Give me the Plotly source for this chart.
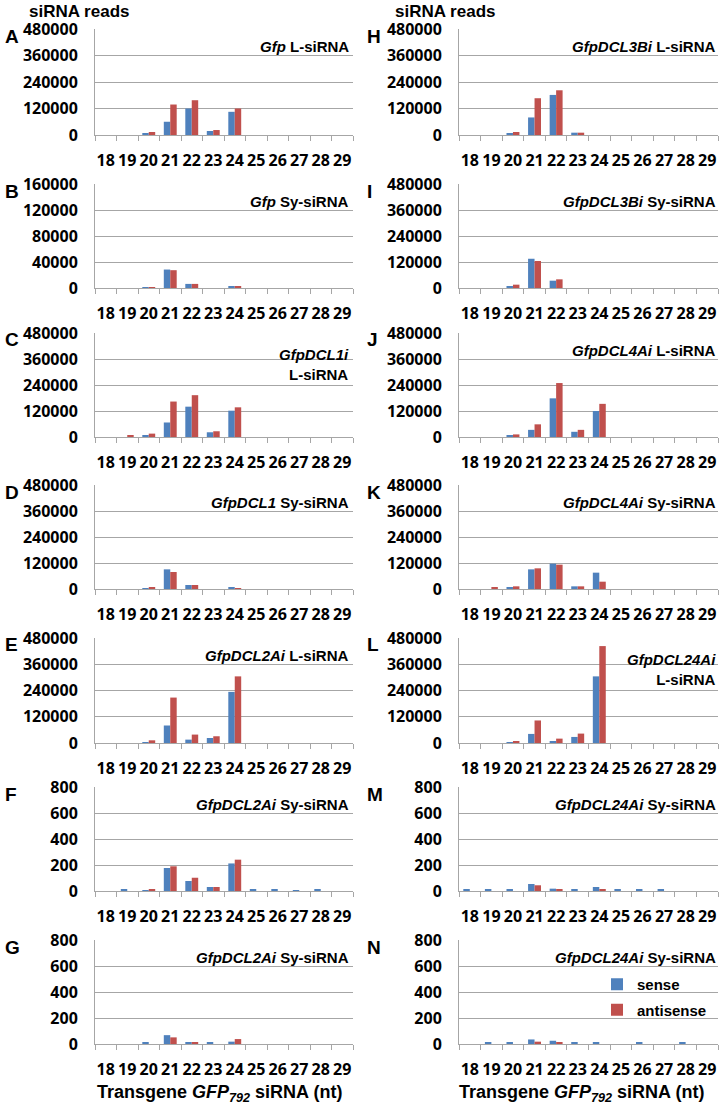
import plotly.graph_objects as go

sizes = [str(s) for s in range(18, 30)]

# sense / antisense reads per siRNA size (18..29 nt)
A_sense = [0, 0, 6000, 60000, 120000, 18000, 105000, 0, 0, 0, 0, 0]
A_anti = [0, 0, 13500, 138000, 157500, 22500, 120000, 0, 0, 0, 0, 0]
B_sense = [0, 0, 500, 28400, 6300, 0, 2600, 0, 0, 0, 0, 0]
B_anti = [0, 0, 1500, 27400, 6300, 0, 1600, 0, 0, 0, 0, 0]
C_sense = [0, 0, 4700, 67000, 140000, 21800, 121500, 0, 0, 0, 0, 0]
C_anti = [0, 4700, 15600, 163600, 193000, 26500, 137000, 0, 0, 0, 0, 0]
D_sense = [0, 0, 4600, 90700, 18500, 0, 7700, 0, 0, 0, 0, 0]
D_anti = [0, 0, 9200, 78400, 18500, 0, 4600, 0, 0, 0, 0, 0]
E_sense = [0, 0, 1000, 80000, 15400, 23000, 233800, 0, 0, 0, 0, 0]
E_anti = [0, 0, 12300, 207700, 38500, 30800, 304600, 0, 0, 0, 0, 0]
F_sense = [0, 8, 2, 177, 77, 31, 212, 13, 8, 5, 8, 0]
F_anti = [0, 0, 15, 190, 102, 31, 241, 0, 0, 0, 0, 0]
G_sense = [0, 0, 8, 68, 8, 8, 18, 0, 0, 0, 0, 0]
G_anti = [0, 0, 0, 51, 8, 0, 38, 0, 0, 0, 0, 0]
H_sense = [0, 0, 6000, 79500, 181500, 10500, 0, 0, 0, 0, 0, 0]
H_anti = [0, 0, 13500, 166500, 202500, 10500, 0, 0, 0, 0, 0, 0]
I_sense = [0, 0, 7700, 135000, 33800, 0, 0, 0, 0, 0, 0, 0]
I_anti = [0, 0, 15400, 124600, 40000, 0, 0, 0, 0, 0, 0, 0]
J_sense = [0, 0, 6000, 33000, 178500, 24000, 120000, 0, 0, 0, 0, 0]
J_anti = [0, 0, 12000, 58500, 249000, 33000, 153000, 0, 0, 0, 0, 0]
K_sense = [0, 0, 7700, 90700, 117000, 12300, 75400, 0, 0, 0, 0, 0]
K_anti = [0, 6000, 12300, 95400, 112300, 12300, 33800, 0, 0, 0, 0, 0]
L_sense = [0, 0, 1000, 41500, 7700, 27700, 304600, 0, 0, 0, 0, 0]
L_anti = [0, 0, 4600, 103000, 20000, 43000, 443000, 0, 0, 0, 0, 0]
M_sense = [8, 8, 13, 54, 18, 8, 31, 8, 8, 8, 0, 0]
M_anti = [0, 0, 0, 44, 8, 0, 15, 0, 0, 0, 0, 0]
N_sense = [0, 8, 8, 35, 25, 13, 13, 0, 15, 0, 8, 0]
N_anti = [0, 0, 0, 18, 10, 0, 0, 0, 0, 0, 0, 0]

panel_letters = ["A", "B", "C", "D", "E", "F", "G", "H", "I", "J", "K", "L", "M", "N"]
panel_titles = [
    "<i>Gfp</i> L-siRNA", "<i>Gfp</i> Sy-siRNA", "<i>GfpDCL1i</i><br>L-siRNA",
    "<i>GfpDCL1</i> Sy-siRNA", "<i>GfpDCL2Ai</i> L-siRNA", "<i>GfpDCL2Ai</i> Sy-siRNA",
    "<i>GfpDCL2Ai</i> Sy-siRNA",
    "<i>GfpDCL3Bi</i> L-siRNA", "<i>GfpDCL3Bi</i> Sy-siRNA", "<i>GfpDCL4Ai</i> L-siRNA",
    "<i>GfpDCL4Ai</i> Sy-siRNA", "<i>GfpDCL24Ai</i><br>L-siRNA", "<i>GfpDCL24Ai</i> Sy-siRNA",
    "<i>GfpDCL24Ai</i> Sy-siRNA",
]
panel_ymax = [480000, 160000, 480000, 480000, 480000, 800, 800,
              480000, 480000, 480000, 480000, 480000, 800, 800]
sense_series = [A_sense, B_sense, C_sense, D_sense, E_sense, F_sense, G_sense,
                H_sense, I_sense, J_sense, K_sense, L_sense, M_sense, N_sense]
anti_series = [A_anti, B_anti, C_anti, D_anti, E_anti, F_anti, G_anti,
               H_anti, I_anti, J_anti, K_anti, L_anti, M_anti, N_anti]

W, H = 722, 1108


def px(x):
    return x / W


def py(y):
    return 1 - y / H


SENSE_C = "#4F81BD"
ANTI_C = "#C0504D"
GRID_C = "#A6A6A6"
TICKFONT = dict(family="Open Sans", size=16, color="black", weight="bold")
LABFONT = "Liberation Sans"

col_x = [(95, 353), (459, 718)]
row_y = [(29, 135), (184, 288), (333, 437), (485, 589), (638, 743), (787, 891), (940, 1044)]

fig = go.Figure()
annotations = []

for i in range(14):
    col = i // 7
    row = i % 7
    n = i + 1
    xa = "x" if n == 1 else f"x{n}"
    ya = "y" if n == 1 else f"y{n}"
    x0, x1 = col_x[col]
    y0, y1 = row_y[row]
    fig.add_trace(go.Bar(x=sizes, y=sense_series[i], name="sense", marker_color=SENSE_C,
                         marker_line_width=0, xaxis=xa, yaxis=ya,
                         showlegend=(i == 13), legendgroup="s"))
    fig.add_trace(go.Bar(x=sizes, y=anti_series[i], name="antisense", marker_color=ANTI_C,
                         marker_line_width=0, xaxis=xa, yaxis=ya,
                         showlegend=(i == 13), legendgroup="a"))
    ymax = panel_ymax[i]
    xkey = "xaxis" if n == 1 else f"xaxis{n}"
    ykey = "yaxis" if n == 1 else f"yaxis{n}"
    fig.update_layout(**{
        xkey: dict(domain=[px(x0), px(x1)], anchor=ya, type="category",
                   showline=True, linecolor=GRID_C, linewidth=1,
                   ticks="outside", tickson="boundaries", ticklen=5, tickcolor=GRID_C,
                   showgrid=False, tickfont=TICKFONT, ticklabelstandoff=11,
                   tickangle=0, automargin=False, fixedrange=True),
        ykey: dict(domain=[py(y1), py(y0)], anchor=xa,
                   range=[0, ymax], dtick=ymax / 4, tick0=0, tickformat="d",
                   showline=True, linecolor=GRID_C, linewidth=1,
                   showgrid=True, gridcolor=GRID_C, gridwidth=1, zeroline=False,
                   ticks="", tickfont=TICKFONT, ticklabelstandoff=13,
                   automargin=False, fixedrange=True),
    })
    lx = 3 if col == 0 else 365
    annotations.append(dict(text=panel_letters[i], x=px(lx), y=py(y0 + 7),
                            xref="paper", yref="paper", xanchor="left", yanchor="middle",
                            showarrow=False,
                            font=dict(family=LABFONT, size=19, color="black", weight="bold")))
    rx = 351 if col == 0 else 718
    if "<br>" in panel_titles[i]:
        ty = y0 + 31
    else:
        ty = y0 + 17
    annotations.append(dict(text=panel_titles[i], x=px(rx), y=py(ty),
                            xref="paper", yref="paper", xanchor="right", yanchor="middle",
                            align="right", showarrow=False,
                            font=dict(family=LABFONT, size=15, color="black", weight="bold")))

for cx in [27, 393]:
    annotations.append(dict(text="siRNA reads", x=px(cx), y=py(11), xref="paper", yref="paper",
                            xanchor="left", yanchor="middle", showarrow=False,
                            font=dict(family=LABFONT, size=17, color="black", weight="bold")))

for cx in [220, 581]:
    annotations.append(dict(text="Transgene <i>GFP</i><sub><i>792</i></sub> siRNA (nt)",
                            x=px(cx), y=py(1093), xref="paper", yref="paper",
                            xanchor="center", yanchor="middle", showarrow=False,
                            font=dict(family=LABFONT, size=18, color="black", weight="bold")))

fig.update_layout(
    width=W, height=H, autosize=False,
    margin=dict(l=0, r=0, t=0, b=0, autoexpand=False),
    paper_bgcolor="white", plot_bgcolor="white",
    barmode="group", bargap=0.4, bargroupgap=0,
    annotations=annotations,
    showlegend=True,
    legend=dict(x=px(597), y=py(968), xanchor="left", yanchor="top",
                bgcolor="rgba(0,0,0,0)", tracegroupgap=3,
                font=dict(family=LABFONT, size=15, color="black", weight="bold")),
)

# remove the browser's default 8px page margin so the figure sits at the top-left corner
fig.write_html("out.html", config={"displayModeBar": False},
               post_script="document.body.style.margin='0';")
